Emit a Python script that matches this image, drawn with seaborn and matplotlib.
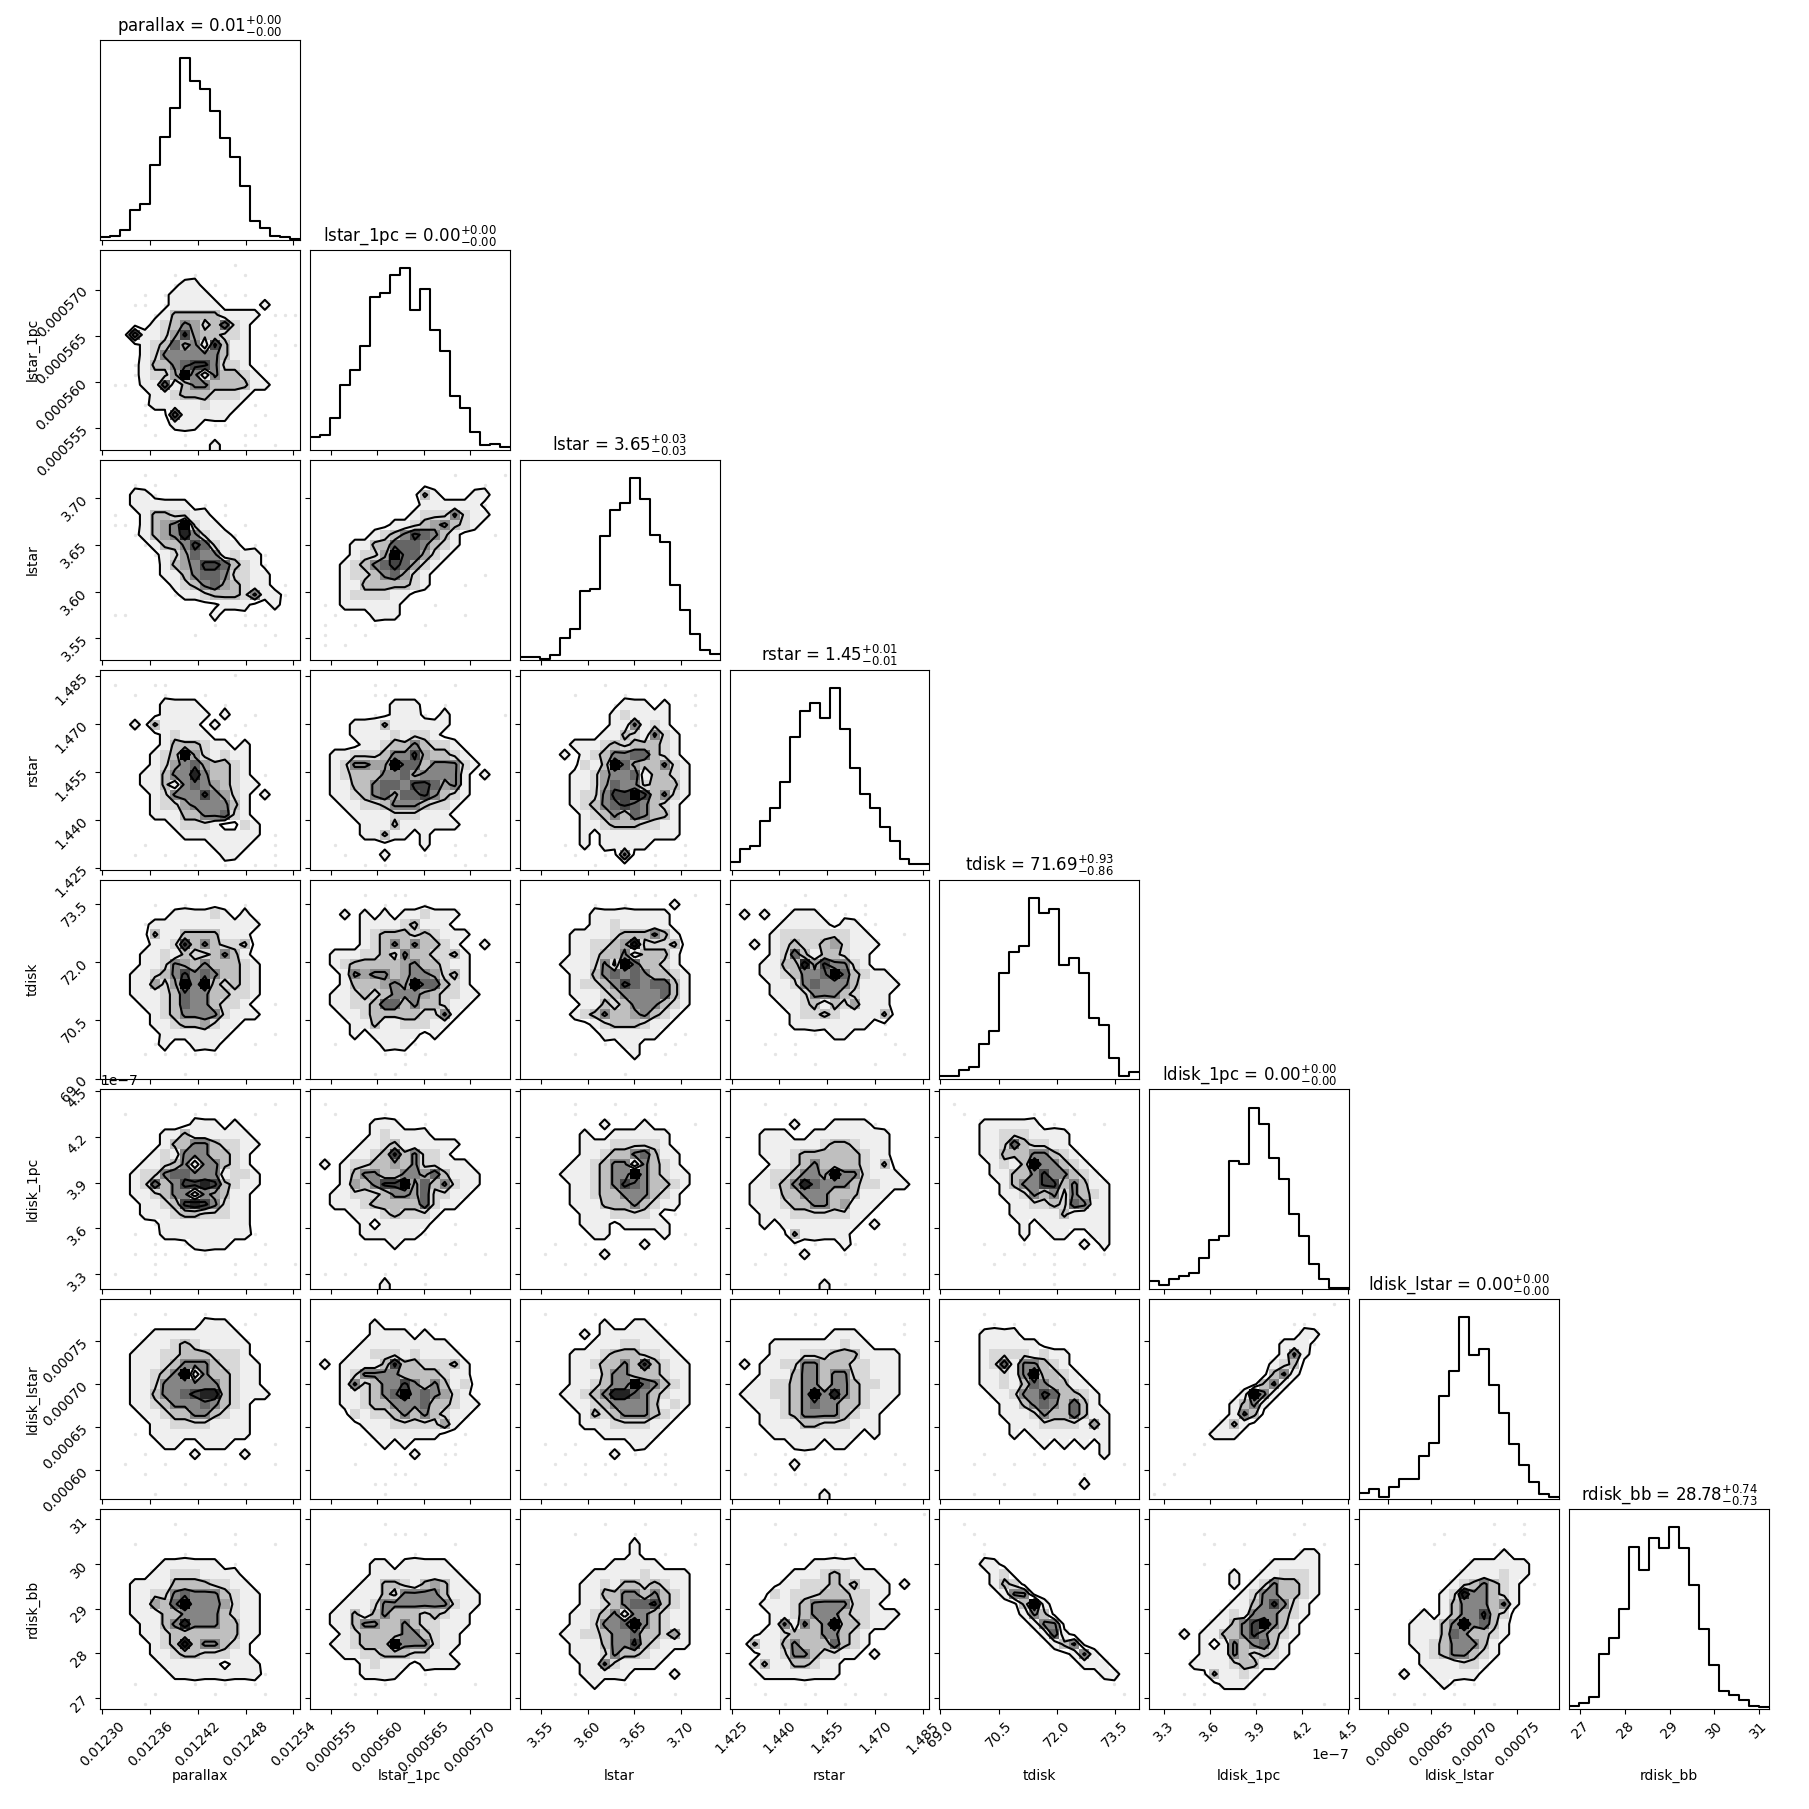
"""
Corner plot of the disk fit posterior, 8 parameters.
Each 2D panel is kept as a 20x20 block of density digits read from the picture.
"""
import numpy as np
import seaborn as sns
import matplotlib
matplotlib.use("Agg")
import matplotlib.pyplot as plt
from matplotlib.ticker import MaxNLocator, NullLocator, ScalarFormatter

names = ["parallax", "lstar_1pc", "lstar", "rstar", "tdisk", "ldisk_1pc", "ldisk_lstar", "rdisk_bb"]
titles = [
    r"parallax = $0.01_{-0.00}^{+0.00}$",
    r"lstar_1pc = $0.00_{-0.00}^{+0.00}$",
    r"lstar = $3.65_{-0.03}^{+0.03}$",
    r"rstar = $1.45_{-0.01}^{+0.01}$",
    r"tdisk = $71.69_{-0.86}^{+0.93}$",
    r"ldisk_1pc = $0.00_{-0.00}^{+0.00}$",
    r"ldisk_lstar = $0.00_{-0.00}^{+0.00}$",
    r"rdisk_bb = $28.78_{-0.73}^{+0.74}$",
]
lims = [
    (0.012297, 0.012548),
    (0.0005527, 0.0005743),
    (3.5272, 3.7412),
    (1.4244, 1.4870),
    (68.98, 74.12),
    (3.202e-7, 4.51e-7),
    (0.000566, 0.000799),
    (26.75, 31.23),
]

# bin heights of the diagonal histograms
h_parallax = [8, 11, 29, 89, 108, 225, 309, 395, 545, 477, 452, 386, 306, 249, 161, 57, 35, 11, 8, 3]
h_lstar_1pc = [39, 44, 95, 194, 240, 311, 459, 470, 524, 546, 419, 482, 359, 296, 161, 125, 53, 15, 17, 9]
h_lstar = [6, 6, 1, 12, 51, 73, 163, 168, 293, 355, 372, 431, 381, 296, 280, 177, 117, 60, 23, 13]
h_rstar = [18, 48, 57, 115, 147, 209, 315, 378, 397, 361, 432, 335, 242, 180, 147, 100, 68, 26, 14, 12]
h_tdisk = [7, 9, 22, 29, 85, 116, 254, 302, 316, 432, 396, 404, 273, 288, 254, 145, 130, 52, 7, 17]
h_ldisk_1pc = [19, 11, 24, 31, 38, 74, 118, 126, 304, 299, 432, 394, 313, 263, 178, 126, 59, 24, 4, 2]
h_ldisk_lstar = [18, 30, 6, 35, 59, 59, 127, 166, 305, 378, 538, 428, 445, 337, 254, 162, 102, 50, 16, 6]
h_rdisk_bb = [8, 19, 36, 163, 211, 298, 483, 413, 508, 478, 540, 478, 368, 238, 132, 55, 43, 28, 8, 7]
hists = [h_parallax, h_lstar_1pc, h_lstar, h_rstar, h_tdisk, h_ldisk_1pc, h_ldisk_lstar, h_rdisk_bb]

# density blocks, top row first. 0 empty, . a stray sample, 1-9 grey level
g10 = """
00000000000000000000 0000000000000.000000 0000000.0.0000.00000 0000000.110.00000000 0000.0.11110.0.00000
000..0.1111100001000 00000.13333311110... 00000123542362100000 00061124743322100.00 00001236451731100.0.
00001255555531100.00 000.133567752210.000 000.1224951533210.00 0..01161355333311000 00000112333222100000
0000.1111121110.0000 0000.00611111000.000 0000.001110..00.0000 00000.00.0.000..0000 00000000.00100.00.00
"""
g20 = """
00000000000000000000 0000.00.000000000000 000.0.00000000000000 00011.00000000000000 0001111110.0.0000000
0.0013322110.0000000 0..01345921100.00000 000.134585211.000000 0000.1335762110.0000 00000.1246551211.000
0000001345776321.000 00000011356652211000 000000012356432110.0 0000000.1123332511.0 00000000000.11100100
0..00000000100.0.000 00000000000.00...000 000000000.0000000.00 0000000000000000.000 00000000000000000000
"""
g21 = """
00000000000000000000 00000000000000.0000. 00000000000000000.00 00000000000310001100 00000000000111111.00
00000000001222521100 00000000112345321000 000000123576531000.0 00001133666532100000 00001224966421000000
00012356764210000000 00012235642100000.00 000113333321000.0000 00012222110000000000 0.0111111000.0000000
00.000111000000.0000 0.00.0.0000.00000000 0.000.00000000000000 0.0.0000000000000000 00000000000000000000
"""
g30 = """
0000000000000.000000 0.000..0000000000000 000.00.000.000000000 000000111100.0000000 000000111110100.0000
00010311110100.00000 0000001211100.000000 00000013332110100000 00000123942121100000 00000124564332100000
0000113558533210.000 00001131565432110000 00000125557542101000 00000122455553100000 00000111335562100000
00000001222100210000 00000000111111110.00 0000.000000111100.00 000.00.00.0011000.00 00000000..00.00.0.00
"""
g31 = """
00000000000000000000 000000.0.00000.00000 000000..000.00000000 0000000011100.000000 000000.0111.0100000.
00001113111111000000 00001111212210000000 00000112335322100000 00112223557433210000 00125544966355521000
00123335564555510100 00113356657764510000 00112356466753210000 00011223555322100000 00001111222111000000
00000111311111100000 00000113110100000.00 00.00000000100.00000 000.0001000.00.00.00 00000.0.0000000.0000
"""
g32 = """
00000000000000000000 00000000.000.0.00000 00000.0000.000000.00 000000000.1110100.00 00000000012111100000
00000000011512100.00 00000000113215210000 00000111232333210000 00001012355663210000 00000021396433521000
00000112455613321000 00000112465523331000 00000122577973521000 00000123567653210000 00000012353653310000
00000011233322110000 00000010111111110000 0000.01011111000.000 00000.00.0500.00.000 0000000.00000.00.000
"""
g40 = """
00000000000000000000 0000000000.0.0000000 00000.00.00000.00000 00000001111210100000 0000.111111111110000
00000311333311100000 00000112735322300000 00001121322353100000 00001125435333210000 00011235756533210000
00011424959323210000 00011123655332210000 00001123655322100.00 00000123555521110000 00000112334211000000
00000011111110000.00 00000.100111000.0000 0000.0.0..0.00000000 00000000000000000000 00000000.00000000000
"""
g41 = """
00000000000000000000 00000.00..0000000000 0000000.000.00000000 00010101011211100000 00000111123111000000
00000123332321110000 00000123535332100100 00111223253322310000 00123333345332110000 00015455345542310000
00013334549663210000 00112323555432211000 00112236635332110000 00011233333225100000 00001131122211000000
00001011111010000000 00.0000111.000000000 0000000.0.0.00000000 000000000.0000000000 000000.0.0000.000000
"""
g42 = """
00000000000000000000 00000000000.0.000.00 0000000.00.000010000 00000001111111100000 00000001121111100000
00000111123335310000 00000112234822230000 00000112335133310000 00001112529633210000 00000113565653321000
00000122357656631000 00000111235555631000 00000011323555321000 00000123533453210000 00000001233321100000
0000000011111100.000 00000000.011000.0000 00000.00000100.00000 00000000000000000000 0000000000.000000000
"""
g43 = """
00000000000000000000 0000000.000.00000000 00000.0000.00.000000 01010011100.0.000000 00000111110110.00000
00001222222211000.00 00101232234211100000 00001263133211000000 00011338475521000000 00011235569632110000
00001125655531111000 00001112555321110000 00000112313241110000 00000012232111130000 000000111111110.0000
0000.000.011000.0000 000.00.000000000.000 0000.0.0000000000.00 00000000.00000.00000 00000000000000000000
"""
g50 = """
00000000000000000000 0000000.00.000000.00 00.000000.00000.0000 00000000011101000000 00000011311111100000
00000013355322110000 00000121555332100000 00001123515532100000 00012256655512210000 00012635778732110000
00011235515431100000 00001123787521100000 00001112332221100000 00000.11111111100000 000.00111111111.0000
00000.00.1111000.000 000.0..0.0.0000.0000 00000.00.0000.00.00. 0.000.0000000.0.0000 0000000000000000.000
"""
g51 = """
00000000000000000000 0.00000.000000000000 00.0000.000.00000000 00000011100.00000000 00000012111100000000
00000112311111100000 00001123735221000000 01012233435221110000 00013553355463111000 00014357794635211000
00112223554622110000 00111233333621100000 00001112322210000000 00000101111100.00000 00000111111.00000000
00000000100000.00000 0000.00000.00.000.00 00000.00.00000000000 0.0.000.000.00000000 00000001000.00000000
"""
g52 = """
00000000000000000000 00000.000.000.000000 00000.0000.00.000000 00000000100010000.00 00000010011111100000
00000011122222100000 00000011233563110000 00000112355153210000 00001112355953211000 00000112357653321000
00000112335553210000 00000111333532110000 000000111222210.0000 00000011101111100000 0000000110000010.000
000.00.0000010000.00 00.0000010000000000 0000.00.00.00.0.0000 000000.00000.0000.00 00000000000000000000
"""
g53 = """
00000000000000000000 000.0000.0.00.000000 00000.00000000000000 00000010001111.00000 00011100111111110000
00011111123321110000 00011123333332110000 00001123533332130000 00012235549552111000 00112358655532211100
00111335553331110000 00111233553411100000 00011122222211000000 00010111111110100000 00000.31111100000000
000000.0.001.0000.00 000.0001000.00000.00 00.00.00000000.00000 00000.00000000.00.00 00000000010.00000000
"""
g54 = """
00000000000000000000 0.000000000000000000 00.000000..00.000000 00001111110.0000.000 00001122211110000000
00001126322110000000 00001133355321000000 00000121395532100000 00000113357553210000 00000013557735311000
00000011253525321000 00000001122326511000 00000001111131111000 00000000101111111000 00000000100110011000
0000.000.00000101000 000000.00.0.0000.000 00000.00.00.00.00000 00000000000.00000.00 00000000000.00000000
"""
g60 = """
00000000000000000000 000.00.000.0000.0000 00000000001110.00000 000.0111111111000000 00001112321111100000
00011122333222100000 00011123555322110000 00011235915332110000 00011255555532110000 00011355678832111000
00011235556532100000 00001123355321100000 00000112222111100000 000.0111111111100000 00000011001110000.00
0000.000010000100000 00.000.00000.0000.00 0000.000000.00000000 00000000.000.0.00000 00000.00000000000000
"""
g61 = """
00000000000000000000 000000000.000.000000 0000001000.0.0000000 00000011110100000000 00000111111111000000
00001122212111100000 01011113733222310000 00012555533332110000 00015235575353120000 00011235695654210000
00011233555633211000 00002122353532110000 00000111222224100000 000000111111100.0000 00000.01010000.00000
0000000000100..00000 0000.000.0000.000000 00000000..0000000000 000000..00.000000000 0000000.000000000000
"""
g62 = """
00000000000000000000 00.0000.000000000.00 00000000100110.00000 00000010111111000000 00000001112211100000
00000111233322110000 00000112335373211000 00000111355333211000 00000112355965321000 00001123588653211000
00000112355553121000 00000013235553210000 00000011122221100000 00000000111111000000 00.00.00000110000000
0000.000010.00.00000 000.00.0.000.0.00000 000000.00.000..00000 00.0.00000.0000.0000 00000000000000000000
"""
g63 = """
00000000000000000000 000000.0.00.00000000 00000000.00000000.00 00000000001110000.00 00001111111211000000
00001112223331111000 01011225533322111000 00011135535522111000 00112235535532211000 01112235958532111000
00111235655332110000 00011235555321100000 00011113322211100000 00001111111110100000 00000011101100000000
00.00.0.0.000.00.000 00000010000.00000.00 0.00.0.0000.000.0000 0000.00.00.000000.00 00000000010000000000
"""
g64 = """
00000000000000000000 0000.000000000000000 00000.0.000.00000000 00001111000000000000 00001111110000000000
00001222212110000000 00001261553210000000 00001121593321000000 00001121365331100000 00000112557633210000
00000011356536310000 00000011125336311000 00000001112222141000 00000001011111111000 00000000001010101000
0000.0000.0000001000 000.000.00.00.0000.0 00000.00000000.00000 000000.0000000100000 000.00000.000.000000
"""
g65 = """
000000000000000000.0 0000000000000000.000 00000000000000..0000 00000000000000011000 0000000000000111.000
00000000000001510000 00000000000012300000 00000000000035100000 00000000000351000000 00000000019510000000
00000000135100000000 00000000153000000000 00000001310000000000 00000011100000000000 00000.00000000000000
0000.000000000000000 000.0000000000000000 00.00000000000000000 0.000000000000000000 .0000000000000000000
"""
g70 = """
00000000000000000000 0000000.000000000000 00000000.0000.000000 000.000000000.000.00 00000000.00000000000
0000001111110.000000 00000112221111000000 00011113333221100000 00011225655532110000 00011436955542110000
00011133555532110000 00001135855533110000 00001123333333110000 00000123835532100000 00000112332221100000
00000011111101110000 0000000111111111.000 000.00000.00.00.0000 00000.00000.0000.000 0000.000000000000000
"""
g71 = """
00000000000000000000 0000000.000000000000 00000000..0.00000000 00000.00000000.00000 0000000000.000000000
00000011011111000000 00000011111111100000 00000113321343110000 00001113255553111000 00011125555555211000
00113135333232110000 00113553353221110000 00012333355321100000 00112333955521100000 00011223332211000000
00000121110111100000 00000111100.00000000 0000.00.000.0000.000 0000.0.00000.0000000 00000000000000000000
"""
g72 = """
00000000000000000000 00000000.000.0000000 00000.00000.00000.00 00000000000100000.00 00000000000100.00000
00000000011111000000 00000001111121111000 00000011213323211000 00000011335535321000 00000011235667321000
00000112351553211000 00000112556953211000 00001122355633241000 00000111355732111000 00000111253321100000
00000011521111000000 00000011111000010000 00000.0100.000000000 00000.00000.000.0000 00000000000000000000
"""
g73 = """
00000000000.0000000. 0000.000000000.00000 000000.000.0000.0000 00000.00000.0000.000 0000000000.0.0000000
00000000111110000000 00000011123211100000 00000112223231110100 00002122233322110000 00011123555522100000
00001123555322111000 00001515359332110000 00011233355321000000 00311353336321000000 00011255322110100000
00131133211000000000 00011111111000000000 00.0000.000.00000000 000.0000.000.00.0000 00000.0.000.00000000
"""
g74 = """
00000000000000000000 00.00000000000000000 000.0000000000000000 0000.000000000000000 0000.000000000000000
00001100000000000000 00000120000000000000 00000132000000000000 00000015500000000000 00000000391000000000
00000000153000000000 00000000015500000000 00000000001610000000 00000000000135000000 00000000000001510000
00000000000000111000 00000000000000001100 00000000000000000.00 000000000000000000.0 00000000000000000000
"""
g75 = """
00000000000000000000 000000000000000.0000 00000.00000000.00000 000000.00.0000000.00 00000000000000011000
00000.00000011111000 00000000100112221000 00000000101253321000 00000000012553321000 00000000113575210000
00000001215553210000 00000011357953100000 00010113357532100000 00000101535631000000 00000111532321000000
00001111233110000000 00000.31121000000000 00000.01110000000000 000.0.00000.00000000 0000.00000.000000.00
"""
g76 = """
00000000000000000000 0000000000000.00.000 00000000.0000000.000 0000000.00000.000000 00000000000000100000
00000000000111111000 00000000001111211000 00000000012353210.00 00000000128553210000 00000000135553510000
00000010135573200000 00000111359563100000 00000111365332100000 00000112355531000000 00000012355321000000
00000011112210000000 00001001111100000000 000000001.0.00000000 000.00.00.0000000000 00000.0000.00.000000
"""
panels = {
    (1, 0): g10, (2, 0): g20, (2, 1): g21, (3, 0): g30, (3, 1): g31, (3, 2): g32,
    (4, 0): g40, (4, 1): g41, (4, 2): g42, (4, 3): g43,
    (5, 0): g50, (5, 1): g51, (5, 2): g52, (5, 3): g53, (5, 4): g54,
    (6, 0): g60, (6, 1): g61, (6, 2): g62, (6, 3): g63, (6, 4): g64, (6, 5): g65,
    (7, 0): g70, (7, 1): g71, (7, 2): g72, (7, 3): g73, (7, 4): g74, (7, 5): g75, (7, 6): g76,
}
levels = [0.5, 2.5, 4.5, 6.5]
grey_power = 1.25


def read_grid(text):
    # y index runs bottom to top afterwards
    rows = []
    for row in text.split():
        row = row.ljust(20, "0")[:20]
        rows.append([0.2 if c == "." else float(c) for c in row])
    return np.array(rows)[::-1]


def centers(edges):
    return 0.5 * (edges[1:] + edges[:-1])


K = len(names)
fig, axes = plt.subplots(K, K, figsize=(18.09, 18.09), dpi=100)
fig.subplots_adjust(left=1.0 / 18.1, bottom=1.0 / 18.1, right=1 - 0.4 / 18.1, top=1 - 0.4 / 18.1,
                    wspace=0.05, hspace=0.05)

for i in range(K):
    for j in range(K):
        ax = axes[i, j]
        if j > i:
            ax.set_axis_off()
            continue
        x_edges = np.linspace(lims[j][0], lims[j][1], 21)
        y_edges = np.linspace(lims[i][0], lims[i][1], 21)
        xc = centers(x_edges)
        yc = centers(y_edges)
        if i == j:
            heights = np.array(hists[i], dtype=float)
            sns.histplot(x=xc, weights=heights, bins=x_edges.tolist(), element="step", fill=False,
                         color="k", linewidth=1.5, ax=ax)
            ax.set_ylim(0, 1.1 * heights.max())
            ax.set_title(titles[i], fontsize=12)
            ax.yaxis.set_major_locator(NullLocator())
            ax.set_ylabel("")
        else:
            grid = read_grid(panels[(i, j)])
            xx, yy = np.meshgrid(xc, yc)
            stray = grid == 0.2
            sns.scatterplot(x=xx[stray], y=yy[stray], s=6, color="k", alpha=0.1, linewidth=0, ax=ax)
            filled = grid > 0.2
            sns.histplot(x=xx[filled], y=yy[filled], weights=grid[filled] ** grey_power,
                         bins=(x_edges.tolist(), y_edges.tolist()),
                         cmap="gray_r", vmin=0, vmax=9 ** grey_power, ax=ax)
            # pad by one bin so that contours reach the frame
            dx = xc[1] - xc[0]
            dy = yc[1] - yc[0]
            x2 = np.r_[xc[0] - dx, xc, xc[-1] + dx]
            y2 = np.r_[yc[0] - dy, yc, yc[-1] + dy]
            ax.contour(x2, y2, np.pad(grid, 1, mode="edge"), levels=levels, colors="k", linewidths=1.5)
            ax.set_ylim(lims[i])
            ax.yaxis.set_major_locator(MaxNLocator(5, prune="lower"))
        ax.set_xlim(lims[j])
        ax.xaxis.set_major_locator(MaxNLocator(5, prune="lower"))
        ax.xaxis.set_major_formatter(ScalarFormatter())
        if i < K - 1:
            ax.set_xticklabels([])
            ax.set_xlabel("")
        else:
            ax.tick_params(axis="x", labelrotation=45)
            ax.set_xlabel(names[j], fontsize=10)
            ax.xaxis.set_label_coords(0.5, -0.3)
        if j > 0:
            ax.set_yticklabels([])
            if i != j:
                ax.set_ylabel("")
        elif i > 0:
            ax.yaxis.set_major_formatter(ScalarFormatter())
            ax.tick_params(axis="y", labelrotation=45)
            ax.set_ylabel(names[i], fontsize=10)
            ax.yaxis.set_label_coords(-0.3, 0.5)

fig.savefig("out.png", dpi=100)
